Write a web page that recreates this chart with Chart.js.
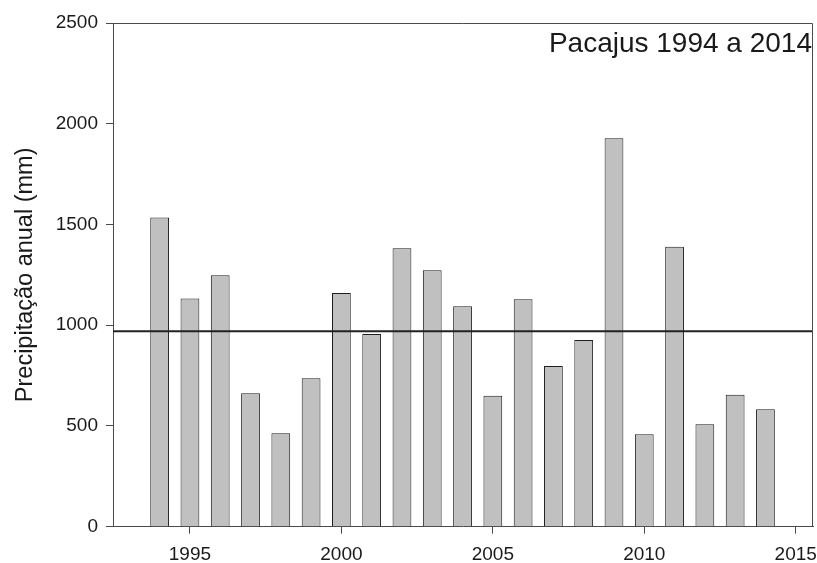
<!DOCTYPE html>
<html>
<head>
<meta charset="utf-8">
<script src="https://cdn.jsdelivr.net/npm/chart.js@4/dist/chart.umd.min.js"></script>
<style>
  html, body { margin: 0; padding: 0; background: #fff; }
  #wrap { width: 817px; height: 563px; }
</style>
</head>
<body>
<div id="wrap"><canvas id="c" width="817" height="563"></canvas></div>
<script>
// ---- Data ----
const years = [1994, 1995, 1996, 1997, 1998, 1999, 2000, 2001, 2002, 2003, 2004,
               2005, 2006, 2007, 2008, 2009, 2010, 2011, 2012, 2013, 2014];
const precipitation = [1535, 1132, 1248, 662, 464, 737, 1160, 957, 1382, 1273, 1094,
                       650, 1129, 798, 927, 1928, 459, 1390, 508, 655, 583];
const meanPrecipitation = [970];
const xTickLabels = [1995, 2000, 2005, 2010, 2015];
const yTickLabels = [0, 500, 1000, 1500, 2000, 2500];
const chartTitle = "Pacajus 1994 a 2014";
const yAxisTitle = "Precipitação anual (mm)";

const FONT = "'Liberation Sans', Arial, sans-serif";
const AXIS = "#4a4a4a";
const TEXT = "#1a1a1a";

const framePlugin = {
  id: 'frameAndMean',
  afterDatasetsDraw(chart) {
    const {ctx, chartArea: a, scales} = chart;
    ctx.save();
    // mean line
    const y = scales.y.getPixelForValue(meanPrecipitation[0]);
    ctx.strokeStyle = "#222";
    ctx.lineWidth = 2;
    ctx.beginPath();
    ctx.moveTo(a.left, y);
    ctx.lineTo(a.right, y);
    ctx.stroke();
    // top & right frame
    ctx.strokeStyle = AXIS;
    ctx.lineWidth = 1;
    ctx.beginPath();
    ctx.moveTo(a.left, a.top + 0.5);
    ctx.lineTo(a.right - 0.5, a.top + 0.5);
    ctx.lineTo(a.right - 0.5, a.bottom);
    ctx.stroke();
    // in-plot title
    ctx.fillStyle = TEXT;
    ctx.font = "28px " + FONT;
    ctx.textAlign = "right";
    ctx.textBaseline = "alphabetic";
    ctx.fillText(chartTitle, a.right - 1, a.top + 29);
    ctx.restore();
  }
};

new Chart(document.getElementById('c'), {
  type: 'bar',
  data: {
    datasets: [{
      data: years.map((yr, i) => ({x: yr, y: precipitation[i]})),
      backgroundColor: "#c0c0c0",
      borderColor: "#1e1e1e",
      borderWidth: 1,
      categoryPercentage: 1,
      barPercentage: 0.62
    }]
  },
  options: {
    responsive: false,
    animation: false,
    devicePixelRatio: 1,
    layout: { padding: { top: 23, right: 4, left: 0, bottom: 0 } },
    plugins: { legend: { display: false }, tooltip: { enabled: false } },
    scales: {
      x: {
        type: 'linear',
        offset: false,
        min: 1992.46,
        max: 2015.57,
        afterBuildTicks(scale) { scale.ticks = xTickLabels.map(v => ({value: v})); },
        afterFit(scale) { scale.height = 36.3; scale.paddingLeft = 0; scale.paddingRight = 0; },
        grid: { offset: false, drawOnChartArea: false, drawTicks: true, tickLength: 7, tickColor: AXIS, color: AXIS },
        border: { display: true, color: AXIS, width: 1 },
        ticks: { color: TEXT, font: { family: FONT, size: 19 }, padding: 10, maxRotation: 0,
                 callback: v => String(v) }
      },
      y: {
        type: 'linear',
        min: 0,
        max: 2500,
        afterBuildTicks(scale) { scale.ticks = yTickLabels.map(v => ({value: v})); },
        afterFit(scale) { scale.width = 113; scale.paddingTop = 0; scale.paddingBottom = 0; },
        grid: { drawOnChartArea: false, drawTicks: true, tickLength: 7, tickColor: AXIS, color: AXIS },
        border: { display: true, color: AXIS, width: 1 },
        ticks: { color: TEXT, font: { family: FONT, size: 19 }, padding: 8,
                 callback: v => String(v) },
        title: { display: true, text: yAxisTitle, color: TEXT,
                 font: { family: FONT, size: 23.5 }, padding: { top: 11, bottom: 0 } }
      }
    }
  },
  plugins: [framePlugin]
});
</script>
</body>
</html>
